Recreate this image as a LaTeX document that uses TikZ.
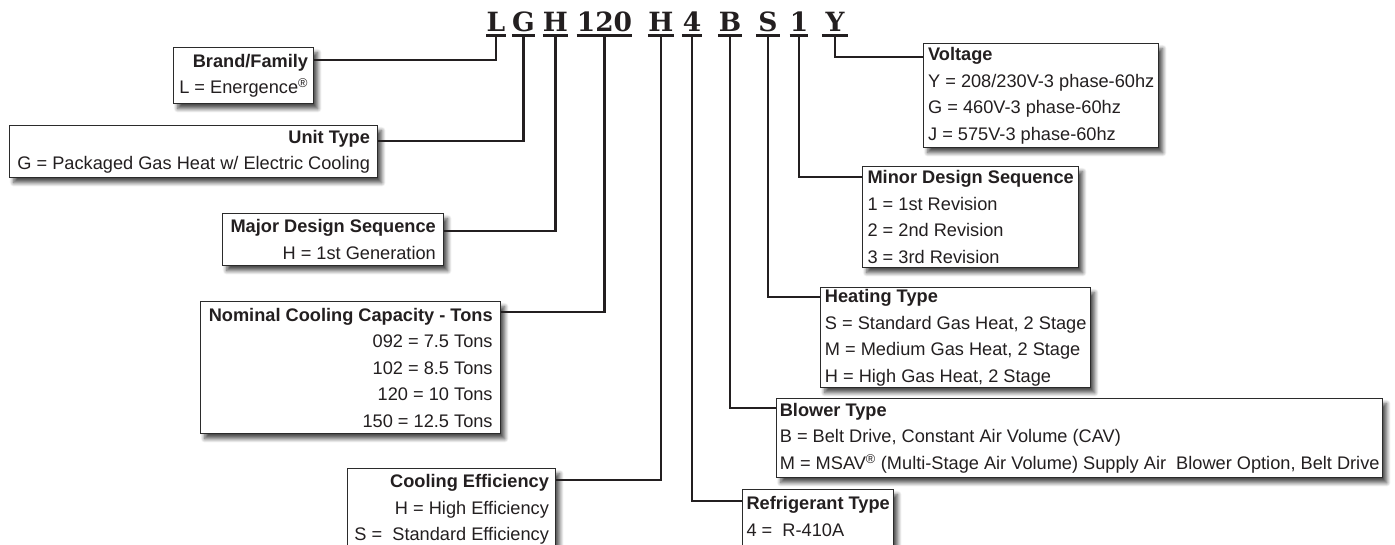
\documentclass[tikz,border=0pt]{standalone}
\usepackage{fontspec}
\setmainfont{Liberation Sans}
\newfontfamily\codefont{DejaVu Serif}
\usetikzlibrary{shadows.blur,calc}
\definecolor{ink}{HTML}{231F20}
\definecolor{frame}{HTML}{2B2B2B}
\begin{document}
\begin{tikzpicture}[x=1pt,y=-1pt,
  letter/.style={font=\codefont\bfseries\fontsize{26.5}{26}\selectfont, text=ink, anchor=base, inner xsep=0pt, inner ysep=4pt},
  uline/.style={line width=2.8pt, draw=ink},
  conn/.style={line width=2.6pt, draw=ink},
  box/.style={draw=frame, line width=1.4pt, fill=white, text=ink, anchor=north west, inner ysep=0pt, inner xsep=3pt,
    font=\fontsize{18.2}{26.5}\selectfont,
    blur shadow={shadow xshift=4pt, shadow yshift=-5pt, shadow blur steps=8, shadow opacity=70, shadow blur radius=4pt}},
  rbox/.style={box, align=right},
  lbox/.style={box, align=left},
]
\useasboundingbox (0,0) rectangle (1395,544);
\clip (0,0) rectangle (1395,544);

% code letters
\node[letter, minimum width=15pt] (cL)  at (496,31)   {L};
\node[letter, minimum width=23pt] (cG)  at (523.5,31) {G};
\node[letter, minimum width=25pt] (cH)  at (555.5,31) {H};
\node[letter, minimum width=55pt] (cN)  at (604.5,31) {120};
\node[letter, minimum width=26pt] (cE)  at (661,31)   {H};
\node[letter, minimum width=20pt] (cR)  at (692,31)   {4};
\node[letter, minimum width=24pt] (cB)  at (730,31)   {B};
\node[letter, minimum width=24pt] (cS)  at (768,31)   {S};
\node[letter, minimum width=18pt] (cM)  at (799,31)   {1};
\node[letter, minimum width=26pt] (cV)  at (835,31)   {Y};
\foreach \n in {cL,cG,cH,cN,cE,cR,cB,cS,cM,cV}
  \draw[uline] (\n.south west) -- (\n.south east);

% left boxes
\node[rbox, minimum width=140pt, minimum height=56pt] (brand) at (173,47)
  {\textbf{Brand/Family}\\L = Energence\textsuperscript{®}};
\node[rbox, minimum width=368pt, minimum height=52pt] (unit) at (9,125)
  {\textbf{Unit Type}\\G = Packaged Gas Heat w/ Electric Cooling};
\node[rbox, minimum width=221pt, minimum height=52pt] (major) at (222,213)
  {\textbf{Major Design Sequence}\\H = 1st Generation};
\node[rbox, minimum width=300pt, minimum height=132pt] (nominal) at (200,301)
  {\textbf{Nominal Cooling Capacity - Tons}\\092 = 7.5 Tons\\102 = 8.5 Tons\\120 = 10 Tons\\150 = 12.5 Tons};
\node[rbox, minimum width=208pt, minimum height=82pt] (cooling) at (347,468)
  {\textbf{Cooling Efficiency}\\H = High Efficiency\\S =\ \ Standard Efficiency};

% right boxes
\node[lbox, minimum width=235pt, minimum height=104pt] (voltage) at (923,43)
  {\textbf{Voltage}\\Y = 208/230V-3 phase-60hz\\G = 460V-3 phase-60hz\\J = 575V-3 phase-60hz};
\node[lbox, minimum width=216pt, minimum height=101pt] (minor) at (862,166)
  {\textbf{Minor Design Sequence}\\1 = 1st Revision\\2 = 2nd Revision\\3 = 3rd Revision};
\node[lbox, minimum width=270pt, minimum height=100pt] (heating) at (820,287)
  {\textbf{Heating Type}\\S = Standard Gas Heat, 2 Stage\\M = Medium Gas Heat, 2 Stage\\H = High Gas Heat, 2 Stage};
\node[lbox, minimum width=606pt, minimum height=79pt] (blower) at (776,398)
  {\textbf{Blower Type}\\B = Belt Drive, Constant Air Volume (CAV)\\M = MSAV\textsuperscript{®} (Multi-Stage Air Volume) Supply Air\ \ Blower Option, Belt Drive};
\node[lbox, minimum width=151pt, minimum height=80pt] (refrig) at (742,489)
  {\textbf{Refrigerant Type}\\4 =\ \ R-410A\\\mbox{}};

% connectors
\draw[conn] (cL.south) |- ($(brand.north east)+(0,13)$);
\draw[conn] (cG.south) |- ($(unit.north east)+(0,16)$);
\draw[conn] (cH.south) |- ($(major.north east)+(0,18)$);
\draw[conn] (cN.south) |- ($(nominal.north east)+(0,11)$);
\draw[conn] (cE.south) |- ($(cooling.north east)+(0,12)$);
\draw[conn] (cR.south) |- ($(refrig.north west)+(0,12)$);
\draw[conn] (cB.south) |- ($(blower.north west)+(0,10)$);
\draw[conn] (cS.south) |- ($(heating.north west)+(0,10)$);
\draw[conn] (cM.south) |- ($(minor.north west)+(0,11)$);
\draw[conn] (cV.south) |- ($(voltage.north west)+(0,14)$);
\end{tikzpicture}
\end{document}
